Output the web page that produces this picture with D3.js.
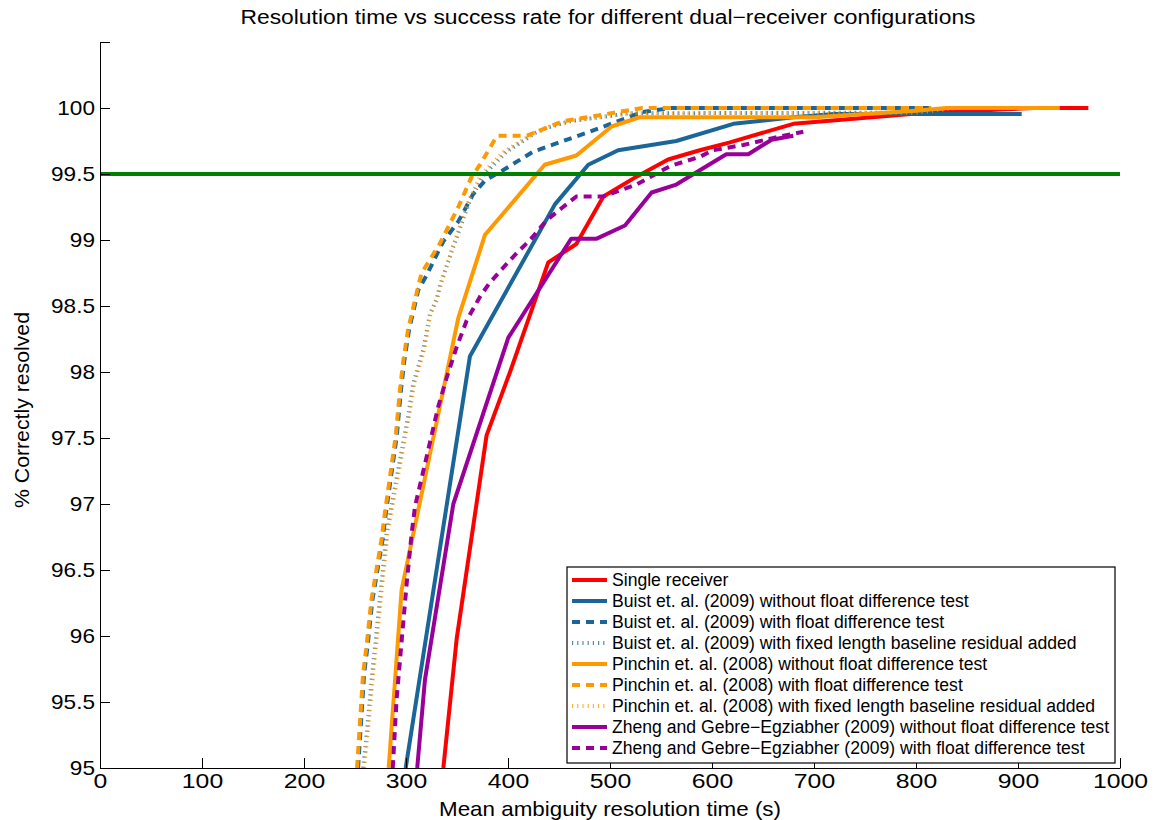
<!DOCTYPE html>
<html><head><meta charset="utf-8">
<script src="https://cdn.jsdelivr.net/npm/d3@7"></script>
<style>
body{margin:0;background:#fff;}
svg text{font-family:"Liberation Sans",Arial,sans-serif;fill:#000;}
</style></head><body>
<svg id="chart" width="1159" height="820"></svg>
<script>
// ---------- data (x = mean resolution time in s, y = % correctly resolved) ----------
const xTicks = [0,100,200,300,400,500,600,700,800,900,1000];
const yTicks = [95,95.5,96,96.5,97,97.5,98,98.5,99,99.5,100,100.5];
const yTickLabels = ["95","95.5","96","96.5","97","97.5","98","98.5","99","99.5","100",""];
const threshold = 99.5;

const singleReceiver = [[336.6,95],[349.7,95.98],[379,97.52],[402,98.0],[439.5,98.83],[467,98.97],[493.5,99.33],[526,99.48],[557,99.61],[588,99.68],[617.6,99.74],[679.7,99.88],[804,99.96],[915,100],[969,100]];
const buistNoTest = [[299.7,95],[362.7,98.12],[446,99.27],[478.7,99.57],[508,99.68],[565,99.75],[621,99.88],[680,99.93],[720,99.955],[903.6,99.955]];
const buistTest = [[253,95],[256,95.36],[259,95.72],[262.4,95.93],[267,96.27],[272,96.5],[277,96.73],[280.4,96.94],[287,97.3],[291,97.52],[295,97.86],[298.4,98.09],[303,98.32],[312,98.62],[320,98.73],[336.6,98.99],[351.3,99.14],[366,99.35],[377.5,99.45],[395.4,99.53],[424.8,99.67],[480,99.82],[532,99.97],[560,100],[815,100]];
const buistFixed = [[258,95],[262,95.3],[266,95.64],[271,96.02],[276,96.4],[281,96.78],[288,97.08],[296,97.41],[302,97.66],[307,97.91],[317,98.17],[323.5,98.44],[330,98.55],[333.5,98.66],[346.4,98.95],[362.7,99.3],[375.8,99.49],[398.7,99.67],[415,99.75],[426.5,99.81],[438,99.85],[460.8,99.9],[519.6,99.96],[815,99.965]];
const pinchinNoTest = [[283,95],[295.7,96.35],[351.3,98.41],[377.5,99.04],[436,99.57],[467,99.64],[501.6,99.86],[529,99.93],[700,99.93],[800,99.98],[830,100],[941,100]];
const pinchinTest = [[252,95],[255,95.36],[258,95.72],[261.4,95.93],[266,96.27],[271,96.5],[276,96.73],[279.4,96.94],[286,97.3],[290,97.52],[294,97.86],[297.4,98.09],[302,98.32],[312,98.65],[315.3,98.75],[333,98.97],[351.3,99.25],[364.4,99.48],[372.5,99.57],[387,99.76],[390,99.79],[418.6,99.79],[454,99.9],[532,100],[815,100]];
const pinchinFixed = [[259,95],[263,95.3],[267,95.64],[272,96.02],[277,96.4],[282,96.78],[289,97.08],[297,97.41],[303,97.66],[308,97.91],[318,98.17],[324,98.44],[330.5,98.55],[334,98.66],[346,98.95],[361.5,99.3],[374,99.5],[396,99.67],[413,99.75],[425,99.81],[437,99.85],[460,99.9],[519,99.96],[800,99.965],[840,100],[940,100]];
const zhengNoTest = [[311,95],[318.6,95.67],[346.4,97.0],[400.3,98.26],[462,99.01],[487,99.01],[514.7,99.11],[540.8,99.36],[565,99.42],[614,99.65],[635.6,99.65],[658.5,99.76],[679.7,99.79]];
const zhengTest = [[287,95],[290.8,95.52],[295.8,95.97],[300.7,96.4],[305.6,96.78],[308.8,96.98],[320.3,97.36],[331.7,97.74],[340,97.96],[349.7,98.19],[359.5,98.39],[372.5,98.57],[381.5,98.67],[398.7,98.82],[408.5,98.9],[421.6,99.0],[437.9,99.15],[454,99.25],[467,99.33],[493.5,99.33],[526,99.42],[558.8,99.56],[588,99.63],[601,99.68],[630.7,99.72],[658.5,99.77],[676.5,99.8],[689.5,99.82]];

const seriesNames = [
  "Single receiver",
  "Buist et. al. (2009) without float difference test",
  "Buist et. al. (2009) with float difference test",
  "Buist et. al. (2009) with fixed length baseline residual added",
  "Pinchin et. al. (2008) without float difference test",
  "Pinchin et. al. (2008) with float difference test",
  "Pinchin et. al. (2008) with fixed length baseline residual added",
  "Zheng and Gebre\u2212Egziabher (2009) without float difference test",
  "Zheng and Gebre\u2212Egziabher (2009) with float difference test"
];
const seriesData = [singleReceiver,buistNoTest,buistTest,buistFixed,pinchinNoTest,pinchinTest,pinchinFixed,zhengNoTest,zhengTest];
const seriesColors = ["#ff0000","#1a6699","#1a6699","#1a6699","#ff9900","#ff9900","#ff9900","#990099","#990099"];
const seriesStyles = ["solid","solid","dashed","dotted","solid","dashed","dotted","solid","dashed"];

// ---------- layout ----------
const svg = d3.select("#chart");
const m = {left:100, right:1120, top:42, bottom:768};
const x = d3.scaleLinear().domain([0,1000]).range([m.left,m.right]);
const y = d3.scaleLinear().domain([95,100.5]).range([m.bottom,m.top]);

const dash = {solid:null, dashed:"8,6", dotted:"1.2,4"};
const width = {solid:4, dashed:4, dotted:4};
const opac = {solid:1, dashed:1, dotted:0.75};

const line = d3.line().x(d=>x(d[0])).y(d=>y(d[1]));
const plot = svg.append("g");
seriesData.forEach((s,i)=>{
  plot.append("path").datum(s).attr("d",line)
    .attr("fill","none").attr("stroke",seriesColors[i])
    .attr("stroke-width",width[seriesStyles[i]])
    .attr("stroke-dasharray",dash[seriesStyles[i]])
    .attr("stroke-opacity",opac[seriesStyles[i]])
    .attr("stroke-linejoin","round");
});
// threshold line
plot.append("path").datum([[0,threshold],[1000,threshold]]).attr("d",line)
  .attr("fill","none").attr("stroke","#008000").attr("stroke-width",4);

// ---------- axes ----------
const yAxis = d3.axisLeft(y).tickValues(yTicks).tickFormat((d,i)=>yTickLabels[i])
  .tickSizeInner(-10).tickSizeOuter(0).tickPadding(5);
const xAxis = d3.axisBottom(x).tickValues(xTicks).tickFormat(d3.format("d"))
  .tickSizeInner(-10).tickSizeOuter(0).tickPadding(5);
const gy = svg.append("g").attr("transform",`translate(${m.left},0)`).call(yAxis);
const gx = svg.append("g").attr("transform",`translate(0,${m.bottom})`).call(xAxis);
[gx,gy].forEach(g=>{
  g.attr("font-family",null).attr("font-size",null);
  g.selectAll("line,path").attr("stroke","#000").attr("stroke-width",1);
});
gy.selectAll(".tick text").style("font-size","20px").attr("fill","#000")
  .attr("x",0).attr("transform","translate(-5,0) scale(1.13,1)");
gx.selectAll(".tick text").style("font-size","21px").attr("fill","#000")
  .attr("transform","scale(1.18,1)");

// ---------- titles ----------
svg.append("text").attr("x",(m.left+m.right)/2 - 2).attr("y",24).attr("text-anchor","middle")
  .attr("textLength",735).attr("lengthAdjust","spacingAndGlyphs")
  .style("font-size","20px").text("Resolution time vs success rate for different dual\u2212receiver configurations");
svg.append("text").attr("x",(m.left+m.right)/2).attr("y",816).attr("text-anchor","middle")
  .attr("textLength",342).attr("lengthAdjust","spacingAndGlyphs")
  .style("font-size","21px").text("Mean ambiguity resolution time (s)");
svg.append("text").attr("transform","translate(29,410) rotate(-90)").attr("text-anchor","middle")
  .attr("textLength",196).attr("lengthAdjust","spacingAndGlyphs")
  .style("font-size","20px").text("% Correctly resolved");

// ---------- legend ----------
const lg = svg.append("g");
lg.append("rect").attr("x",567).attr("y",567).attr("width",548).attr("height",196)
  .attr("fill","#fff").attr("stroke","#000").attr("stroke-width",1.2);
seriesNames.forEach((n,i)=>{
  const cy = 580 + i*21;
  lg.append("line").attr("x1",572).attr("x2",607).attr("y1",cy).attr("y2",cy)
    .attr("stroke",seriesColors[i]).attr("stroke-width",width[seriesStyles[i]])
    .attr("stroke-dasharray",dash[seriesStyles[i]]).attr("stroke-opacity",opac[seriesStyles[i]]);
  lg.append("text").attr("x",612).attr("y",cy).attr("dy","0.35em")
    .style("font-size","17.6px").text(n);
});
</script>
</body></html>
